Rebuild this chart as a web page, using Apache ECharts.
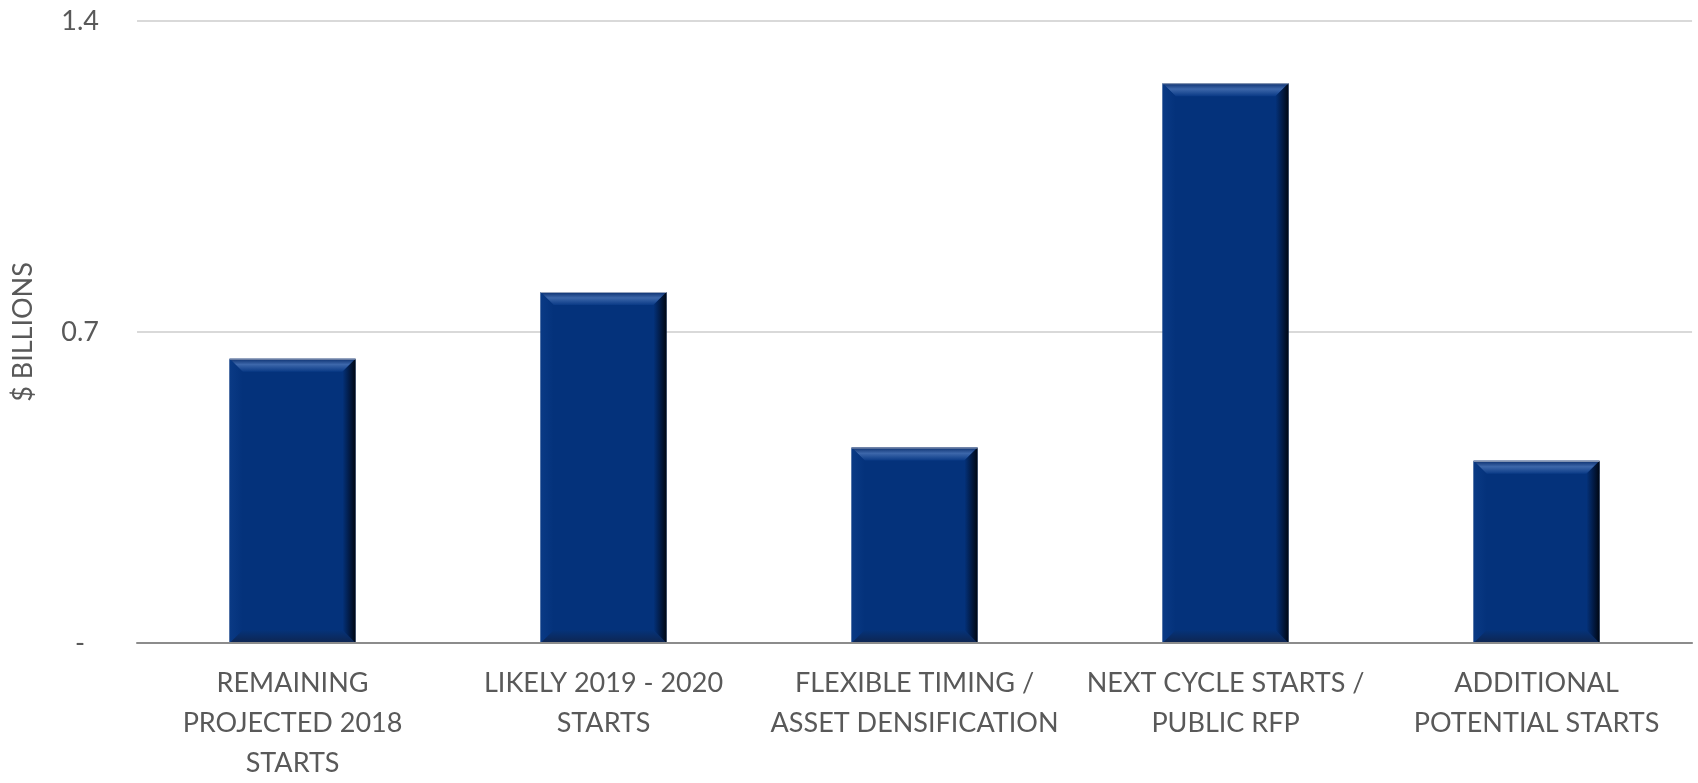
<!DOCTYPE html>
<html>
<head>
<meta charset="utf-8">
<script src="https://cdn.jsdelivr.net/npm/echarts@6/dist/echarts.min.js"></script>
<style>
  html, body { margin: 0; padding: 0; background: #ffffff; width: 100%; height: 100%; overflow: hidden; }
  #chart { width: 100vw; height: 100vh; }
</style>
</head>
<body>
<div id="chart"></div>
<script>
// Pipeline of project starts, in billions of dollars
const categories = [
  'REMAINING\nPROJECTED 2018\nSTARTS',
  'LIKELY 2019 - 2020\nSTARTS',
  'FLEXIBLE TIMING /\nASSET DENSIFICATION',
  'NEXT CYCLE STARTS /\nPUBLIC RFP',
  'ADDITIONAL\nPOTENTIAL STARTS'
];
const values = [0.64, 0.79, 0.44, 1.26, 0.41];
const axisTitle = '$ BILLIONS';
const yMin = 0;
const yMax = 1.4;
const yStep = 0.7;

const FONT = 'Lato, "Open Sans", sans-serif';
const TEXT = '#595959';

// Bevelled bar: flat face plus lit top edge and shaded right/bottom edges
function renderBar(params, api) {
  const i = api.value(0);
  const v = api.value(1);
  const top = api.coord([i, v]);
  const base = api.coord([i, 0]);
  const w = api.size([1, 0])[0] * 0.405;
  const x0 = top[0] - w / 2, x1 = top[0] + w / 2;
  const y0 = top[1], y1 = base[1];
  const b = 13;
  const face = '#04327b';
  return {
    type: 'group',
    children: [
      { type: 'rect', shape: { x: x0, y: y0, width: w, height: y1 - y0 },
        style: { fill: face } },
      { type: 'polygon',
        shape: { points: [[x0, y0], [x1, y0], [x1 - b, y0 + b], [x0 + b, y0 + b]] },
        style: { fill: new echarts.graphic.LinearGradient(0, 0, 0, 1, [
          { offset: 0, color: '#0b2f6e' },
          { offset: 0.45, color: '#3d67aa' },
          { offset: 1, color: '#0a3a86' }
        ]) } },
      { type: 'polygon',
        shape: { points: [[x0, y1], [x1, y1], [x1 - b, y1 - b], [x0 + b, y1 - b]] },
        style: { fill: new echarts.graphic.LinearGradient(0, 0, 0, 1, [
          { offset: 0, color: '#05337a' },
          { offset: 1, color: '#0e2550' }
        ]) } },
      { type: 'polygon',
        shape: { points: [[x0, y0], [x0 + b, y0 + b], [x0 + b, y1 - b], [x0, y1]] },
        style: { fill: new echarts.graphic.LinearGradient(0, 0, 1, 0, [
          { offset: 0, color: '#0a3a85' },
          { offset: 1, color: face }
        ]) } },
      { type: 'polygon',
        shape: { points: [[x1, y0], [x1, y1], [x1 - b, y1 - b], [x1 - b, y0 + b]] },
        style: { fill: new echarts.graphic.LinearGradient(1, 0, 0, 0, [
          { offset: 0, color: '#000712' },
          { offset: 0.5, color: '#021c48' },
          { offset: 1, color: face }
        ]) } },
      { type: 'line', shape: { x1: x0, y1: y0 + 0.5, x2: x1, y2: y0 + 0.5 },
        style: { stroke: '#9aa6bd', lineWidth: 1 } }
    ]
  };
}

const chart = echarts.init(document.getElementById('chart'), null, { renderer: 'canvas' });
chart.setOption({
  animation: false,
  backgroundColor: '#ffffff',
  grid: { left: '8.07%', right: '0.35%', top: '2.68%', bottom: '16.99%', containLabel: false },
  xAxis: {
    type: 'category',
    data: categories,
    axisLine: { show: true, lineStyle: { color: '#8c8c8c', width: 2 } },
    axisTick: { show: false },
    axisLabel: {
      color: TEXT, fontFamily: FONT, fontSize: 27, lineHeight: 40,
      margin: 20, interval: 0, align: 'center'
    },
    z: 10
  },
  yAxis: {
    type: 'value',
    min: yMin, max: yMax, interval: yStep,
    name: axisTitle,
    nameLocation: 'middle',
    nameGap: 100,
    nameRotate: 90,
    nameTextStyle: { color: TEXT, fontFamily: FONT, fontSize: 27 },
    axisLine: { show: false },
    axisTick: { show: false },
    splitLine: { lineStyle: { color: '#d9d9d9', width: 2 } },
    axisLabel: {
      color: TEXT, fontFamily: FONT, fontSize: 27, margin: 38,
      formatter: function (val) {
        return val === 0 ? '{dash|-}' : String(val);
      },
      rich: { dash: { color: TEXT, fontFamily: FONT, fontSize: 27, padding: [0, 14, 0, 0] } }
    }
  },
  series: [{
    type: 'custom',
    renderItem: renderBar,
    encode: { x: 0, y: 1 },
    data: values.map(function (v, i) { return [i, v]; }),
    z: 5
  }]
});
window.addEventListener('resize', function () { chart.resize(); });
</script>
</body>
</html>
